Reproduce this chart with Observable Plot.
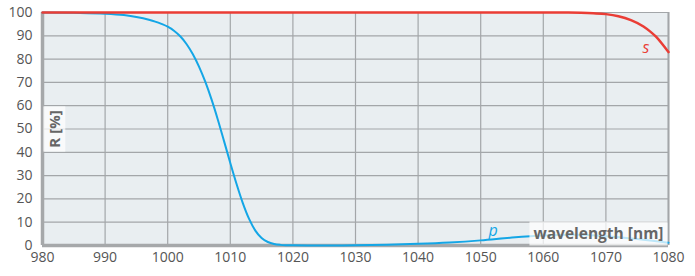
<!DOCTYPE html>
<html><head><meta charset="utf-8">
<script src="https://cdn.jsdelivr.net/npm/d3@7"></script>
<script src="https://cdn.jsdelivr.net/npm/@observablehq/plot@0.6"></script>
<style>
body{margin:0;background:#fff;}
svg{font-family:"Open Sans","Noto Sans",sans-serif;}
</style></head><body>
<div id="chart"></div>
<script>
const wavelengthS = [980,1000,1020,1040,1060,1064,1066,1068,1070,1072,1074,1076,1077,1078,1079,1080];
const reflS       = [100,100,100,100,100,99.95,99.85,99.65,99.3,98.4,96.7,94,92,89.6,86.5,83];
const wavelengthP = [980,985,990,993,995,997,998,999,1000,1001,1002,1003,1004,1005,1006,1007,1008,1009,1010,1011,1012,1013,1014,1015,1016,1017,1018,1019,1020,1025,1030,1035,1040,1045,1050,1055,1060,1065,1070,1075,1080];
const reflP       = [100,99.85,99.5,98.9,98.1,96.9,96.1,95.1,93.9,92.2,89.8,86.5,82.2,76.8,70.3,62.7,54.1,44.8,35.4,26.4,18.2,11.4,6.4,3.2,1.5,0.65,0.27,0.12,0.06,0.03,0.08,0.3,0.7,1.3,2.2,3.4,4.3,4.6,4.0,2.8,1.2];
const xTicks = [980,990,1000,1010,1020,1030,1040,1050,1060,1070,1080];
const yTicks = [0,10,20,30,40,50,60,70,80,90,100];

const sData = wavelengthS.map((x,i)=>({x, y: reflS[i]}));
const pData = wavelengthP.map((x,i)=>({x, y: reflP[i]}));

const grid = "#a3a6a9";
const fmt = d3.format("d");
const plot = Plot.plot({
  width: 695, height: 276,
  marginLeft: 42, marginRight: 27, marginTop: 12, marginBottom: 31,
  x: {domain: [980,1080], label: null},
  y: {domain: [0,100], label: null},
  style: {fontSize: "14px", color: "#555", background: "#fff"},
  marks: [
    Plot.frame({fill: "#e9eef1", stroke: null}),
    Plot.gridX(xTicks, {stroke: grid, strokeOpacity: 1, strokeWidth: 1.2}),
    Plot.gridY(yTicks, {stroke: grid, strokeOpacity: 1, strokeWidth: 1.2}),
    Plot.ruleX([1080], {stroke: "#a3a6a9", strokeWidth: 2}),
    Plot.ruleX([980], {stroke: "#a6a8aa", strokeWidth: 3.5}),
    Plot.ruleY([0], {stroke: "#a6a8aa", strokeWidth: 3.5}),
    Plot.axisX(xTicks, {tickSize: 0, tickPadding: 7, tickFormat: fmt, fill: "#555", fontSize: 14}),
    Plot.axisY(yTicks, {tickSize: 0, tickPadding: 10, tickFormat: fmt, fill: "#555", fontSize: 14}),
    Plot.line(pData, {x: "x", y: "y", stroke: "#14a6e6", strokeWidth: 2, curve: "monotone-x"}),
    Plot.line(sData, {x: "x", y: "y", stroke: "#ea3d35", strokeWidth: 2.5, curve: "monotone-x"}),
    Plot.text(["wavelength [nm]"], {x: 1080, y: 0, dx: -5, dy: -11, text: d=>d, textAnchor: "end", fontWeight: "bold", fontSize: 15.5, fill: "#666", className: "boxlabel"}),
    Plot.text(["R [%]"], {x: 980, y: 50, dx: 13, dy: 0, text: d=>d, rotate: -90, fontWeight: "bold", fontSize: 15, fill: "#666", className: "boxlabel"}),
    Plot.text(["p"], {x: 1052, y: 3.5, dx: 0, dy: -6, text: d=>d, fontStyle: "italic", fontSize: 16, fill: "#14a6e6"}),
    Plot.text(["s"], {x: 1076.4, y: 85, dx: 0, dy: 0, text: d=>d, fontStyle: "italic", fontSize: 16, fill: "#ea3d35"})
  ]
});
document.getElementById("chart").appendChild(plot);
// add semi-transparent white boxes behind label texts
plot.querySelectorAll("g.boxlabel text").forEach(t => {
  const b = t.getBBox();
  const ctm = t.getAttribute("transform");
  const r = document.createElementNS("http://www.w3.org/2000/svg","rect");
  const padX = 4, padY = 1;
  r.setAttribute("x", b.x - padX);
  r.setAttribute("y", b.y - padY);
  r.setAttribute("width", b.width + 2*padX);
  r.setAttribute("height", b.height + 2*padY);
  r.setAttribute("fill", "#fff");
  r.setAttribute("fill-opacity", "0.72");
  if (ctm) r.setAttribute("transform", ctm);
  t.parentNode.insertBefore(r, t);
});
</script>
</body></html>
